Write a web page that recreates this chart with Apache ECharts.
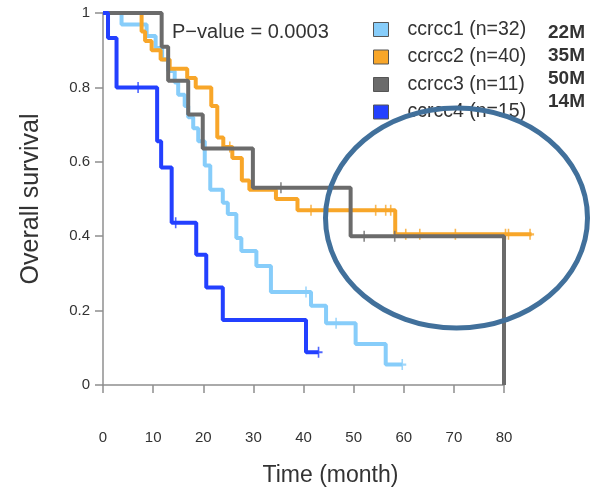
<!DOCTYPE html>
<html>
<head>
<meta charset="utf-8">
<script src="https://cdn.jsdelivr.net/npm/echarts@6/dist/echarts.min.js"></script>
<style>
  html, body { margin: 0; padding: 0; background: #fff; }
  #chart { width: 602px; height: 495px; }
</style>
</head>
<body>
<div id="chart"></div>
<script>
const groups = ['ccrcc1 (n=32)', 'ccrcc2 (n=40)', 'ccrcc3 (n=11)', 'ccrcc4 (n=15)'];
const medians = ['22M', '35M', '50M', '14M'];
const colors = ['#87CDFA', '#F8A629', '#6B6B6B', '#2340FF'];

// step points: time (month) where survival drops to the given value
const c1Time = [0, 3.7, 8.7, 10.5, 11.8, 13.0, 14.3, 15.0, 16.3, 17.0, 18.0, 19.0, 20.3, 21.4, 23.9, 24.9, 26.6, 27.6, 30.6, 33.5, 41.5, 44.5, 50.4, 56.4, 59.7];
const c1Surv = [1, 0.969, 0.938, 0.906, 0.875, 0.844, 0.813, 0.78, 0.75, 0.72, 0.69, 0.655, 0.59, 0.525, 0.49, 0.46, 0.395, 0.36, 0.32, 0.25, 0.213, 0.166, 0.11, 0.055, 0.055];
const c1Cens = [40.5, 46.5, 59.7];

const c2Time = [0, 7.7, 8.4, 9.7, 11.5, 13.3, 16.8, 18.5, 21.6, 22.8, 24.0, 25.8, 27.7, 29.2, 34.5, 38.8, 58.3, 85.5];
const c2Surv = [1, 0.95, 0.925, 0.90, 0.875, 0.85, 0.825, 0.80, 0.75, 0.665, 0.64, 0.61, 0.55, 0.525, 0.50, 0.47, 0.405, 0.405];
const c2Cens = [25.3, 41.5, 54.4, 56.4, 57.4, 60.4, 63.2, 70.3, 80.3, 80.9, 85.2];

const c3Time = [0, 11.7, 13.0, 17.0, 19.9, 29.9, 49.4, 80];
const c3Surv = [1, 0.909, 0.818, 0.727, 0.636, 0.53, 0.40, 0];
const c3Cens = [35.5, 52.1, 58.2];

const c4Time = [0, 1.0, 2.7, 10.8, 11.6, 13.7, 18.6, 20.6, 23.9, 40.5, 43.0];
const c4Surv = [1, 0.933, 0.80, 0.655, 0.585, 0.436, 0.35, 0.262, 0.175, 0.088, 0.088];
const c4Cens = [7.0, 14.5, 43.0];

const curves = [
  [c1Time, c1Surv, c1Cens],
  [c2Time, c2Surv, c2Cens],
  [c3Time, c3Surv, c3Cens],
  [c4Time, c4Surv, c4Cens]
];

const font = 'Liberation Sans, Arial, Helvetica, sans-serif';
const axisGray = '#8f8f8f';

// survival value of a step curve at time t
function survAt(times, surv, t) {
  let s = surv[0];
  for (let i = 0; i < times.length; i++) {
    if (times[i] <= t) s = surv[i];
  }
  return s;
}

// "+" censor mark
const plusPath = 'path://M4,0 L6,0 L6,4 L10,4 L10,6 L6,6 L6,10 L4,10 L4,6 L0,6 L0,4 L4,4 Z';

var chartDom = document.getElementById('chart');
var myChart = echarts.init(chartDom);
var option;

// the curves run past 80 months, so they sit in a wider grid (0-86)
// and the visible time axis (0-80) lives in a second grid on top
const plotLeft = 103, plotTop = 13, plotH = 372, axisW = 401;
const dataMax = 86;

const series = [];
curves.forEach((c, i) => {
  series.push({
    name: groups[i],
    type: 'line',
    step: 'end',
    symbol: 'none',
    z: 2 + i,
    itemStyle: { color: colors[i] },
    lineStyle: { color: colors[i], width: 4 },
    data: c[0].map((t, k) => [t, c[1][k]])
  });
});
curves.forEach((c, i) => {
  series.push({
    name: groups[i] + ' censored',
    type: 'scatter',
    symbol: plusPath,
    symbolSize: [8, 11],
    z: 2 + i,
    itemStyle: { color: colors[i] },
    data: c[2].map((t) => [t, survAt(c[0], c[1], t)])
  });
});

option = {
  animation: false,
  backgroundColor: '#fff',
  textStyle: { fontFamily: font },
  title: {
    text: 'P\u2212value = 0.0003',
    left: 172,
    top: 22,
    padding: 0,
    textStyle: { fontFamily: font, fontSize: 20, fontWeight: 'normal', color: '#333' }
  },
  legend: {
    orient: 'vertical',
    left: 373,
    top: 19.5,
    padding: 0,
    itemGap: 7.5,
    itemWidth: 15,
    itemHeight: 14,
    icon: 'rect',
    itemStyle: { borderColor: '#555', borderWidth: 1 },
    textStyle: { fontFamily: font, fontSize: 19.5, color: '#333', lineHeight: 20, padding: [0, 0, 0, 14] },
    data: groups
  },
  grid: [
    { left: plotLeft, top: plotTop, height: plotH, width: axisW * dataMax / 80 },
    { left: plotLeft, top: plotTop, height: plotH, width: axisW }
  ],
  xAxis: [{
    gridIndex: 0,
    type: 'value',
    min: 0,
    max: dataMax,
    show: false
  }, {
    gridIndex: 1,
    type: 'value',
    min: 0,
    max: 80,
    interval: 10,
    offset: 17,
    name: 'Time (month)',
    nameLocation: 'middle',
    nameGap: 62,
    nameTextStyle: { fontFamily: font, fontSize: 23, color: '#333', padding: [0, 0, 0, 54] },
    axisLine: { show: true, lineStyle: { color: axisGray, width: 1.5 } },
    axisTick: { show: true, length: 8, lineStyle: { color: axisGray, width: 1.5 } },
    axisLabel: { fontFamily: font, fontSize: 15, color: '#333', margin: 28 },
    splitLine: { show: false }
  }],
  yAxis: [{
    gridIndex: 0,
    type: 'value',
    min: 0,
    max: 1,
    interval: 0.2,
    offset: 1,
    name: 'Overall survival',
    nameLocation: 'middle',
    nameGap: 58,
    nameTextStyle: { fontFamily: font, fontSize: 25, color: '#333' },
    axisLine: { show: true, lineStyle: { color: axisGray, width: 1.5 } },
    axisTick: { show: true, length: 8, lineStyle: { color: axisGray, width: 1.5 } },
    axisLabel: { fontFamily: font, fontSize: 15, color: '#333', margin: 12 },
    splitLine: { show: false }
  }, {
    gridIndex: 1,
    type: 'value',
    min: 0,
    max: 1,
    show: false
  }],
  graphic: medians.map((m, i) => ({
    type: 'text',
    x: 548,
    y: 32.5 + i * 23,
    z: 50,
    style: { text: m, font: 'bold 19px ' + font, fill: '#333', verticalAlign: 'middle' }
  })).concat([{
    type: 'ellipse',
    z: 100,
    shape: { cx: 456.5, cy: 218, rx: 131, ry: 110 },
    style: { fill: 'none', stroke: '#41709B', lineWidth: 5 }
  }]),
  series: series
};

option && myChart.setOption(option);
</script>
</body>
</html>
